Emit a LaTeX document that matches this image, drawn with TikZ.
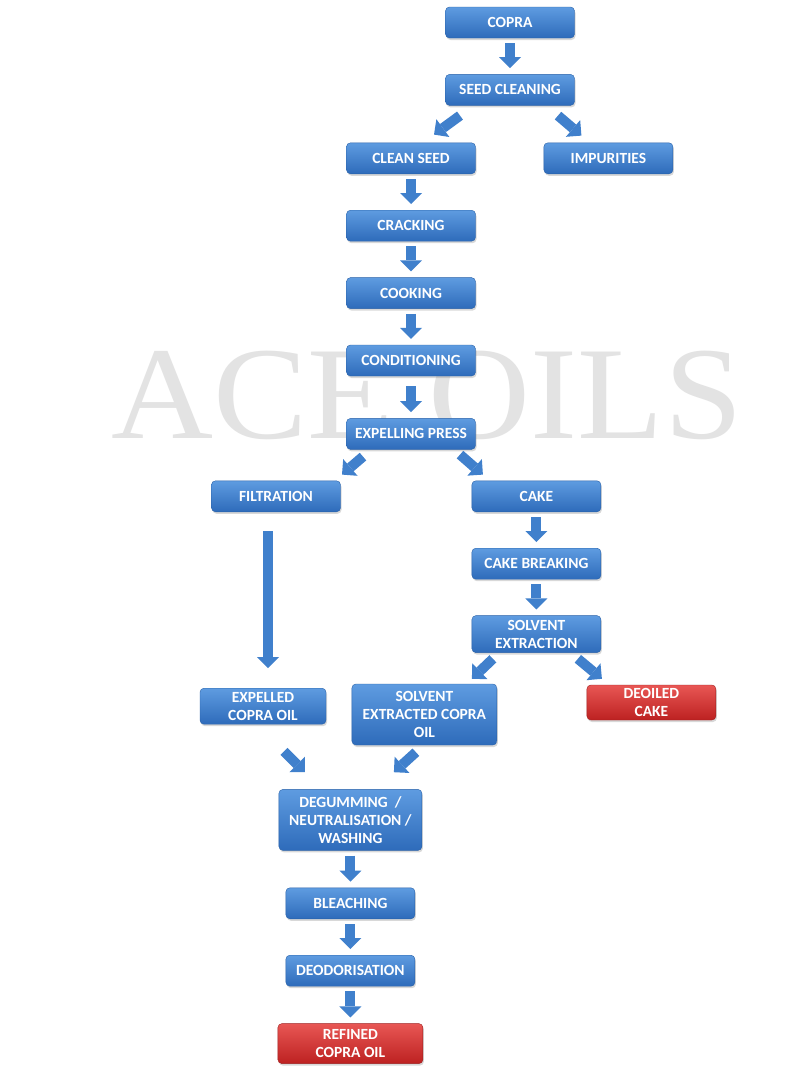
\documentclass[tikz,border=0pt]{standalone}
\usepackage{fontspec}
\setmainfont{Carlito}
\newfontfamily\marcafont{Liberation Serif}
\usetikzlibrary{arrows.meta,positioning,shadows}
\definecolor{azularriba}{rgb}{0.37, 0.61, 0.88}
\definecolor{azulabajo}{rgb}{0.18, 0.42, 0.73}
\definecolor{azulborde}{rgb}{0.16, 0.38, 0.66}
\definecolor{rojoarriba}{rgb}{0.91, 0.34, 0.33}
\definecolor{rojoabajo}{rgb}{0.74, 0.13, 0.13}
\definecolor{rojoborde}{rgb}{0.62, 0.12, 0.12}
\definecolor{flechaazul}{rgb}{0.25, 0.50, 0.80}
\tikzset{
  etapa/.style={
    rounded corners=4pt,
    draw=azulborde,
    top color=azularriba,
    bottom color=azulabajo,
    text=white,
    align=center,
    minimum width=129pt,
    minimum height=31pt,
    inner sep=2pt,
    font=\bfseries\fontsize{15.5}{18}\selectfont,
    drop shadow={opacity=.3,shadow xshift=1pt,shadow yshift=-2pt}
  },
  final/.style={
    etapa,
    draw=rojoborde,
    top color=rojoarriba,
    bottom color=rojoabajo
  },
  flecha/.style={
    -{Triangle[width=22pt,length=11pt,line width=0pt]},
    line width=10pt,
    flechaazul
  },
  recta/.style={
    flecha,
    shorten <=5pt,
    shorten >=6pt
  }
}
\begin{document}
\begin{tikzpicture}[x=1pt,y=-1pt,node distance=36pt]
\useasboundingbox[fill=white] (0,0) rectangle (796,1071);
\node[text=black!11, font=\marcafont\fontsize{132}{132}\selectfont, transform shape, xscale=1.07] (marca) at (427,395) {ACE OILS};
% linea principal
\node[etapa] (copra) at (510,22.5) {COPRA};
\node[etapa, below=of copra] (limpieza) {SEED CLEANING};
\node[etapa, below=37pt of limpieza, xshift=-99pt] (semilla) {CLEAN SEED};
\node[etapa, right=68pt of semilla] (impurezas) {IMPURITIES};
\node[etapa, below=of semilla] (quebrado) {CRACKING};
\node[etapa, below=of quebrado] (coccion) {COOKING};
\node[etapa, below=of coccion] (acond) {CONDITIONING};
\node[etapa, below=42pt of acond] (prensa) {EXPELLING PRESS};
% aceite y torta
\node[etapa, below=31pt of prensa, xshift=-135pt] (filtro) {FILTRATION};
\node[etapa, right=131pt of filtro] (torta) {CAKE};
\node[etapa, below=of torta] (rotura) {CAKE BREAKING};
\node[etapa, below=of rotura, minimum height=37pt] (solvente) {SOLVENT\\EXTRACTION};
\node[final, below=32pt of solvente, xshift=115pt, minimum height=35pt] (desaceitada) {DEOILED\\CAKE};
\node[etapa, below=31pt of solvente, xshift=-112pt, minimum width=145pt, minimum height=61pt] (aceitesolv) {SOLVENT\\EXTRACTED COPRA\\OIL};
\node[etapa, below=176pt of filtro, xshift=-13pt, minimum width=126pt, minimum height=36pt] (aceiteexp) {EXPELLED\\COPRA OIL};
% refinado
\node[etapa, below=44pt of aceitesolv, xshift=-74pt, minimum width=143pt, minimum height=61pt] (degomado) {DEGUMMING\ \ /\\NEUTRALISATION /\\WASHING};
\node[etapa, below=37pt of degomado] (blanqueo) {BLEACHING};
\node[etapa, below=of blanqueo] (desodor) {DEODORISATION};
\node[final, below=37pt of desodor, minimum width=145pt, minimum height=40pt] (refinado) {REFINED\\COPRA OIL};
\draw[recta] (copra) -- (limpieza);
\draw[flecha] ([shift={(-50,10)}]limpieza.south) -- ([shift={(23,-8)}]semilla.north);
\draw[flecha] ([shift={(48,10)}]limpieza.south) -- ([shift={(-27,-7)}]impurezas.north);
\draw[recta] (semilla) -- (quebrado);
\draw[recta] (quebrado) -- (coccion);
\draw[recta] (coccion) -- (acond);
\draw[recta, shorten <=10pt] (acond) -- (prensa);
\draw[flecha] ([shift={(-48,7)}]prensa.south) -- ([shift={(66,-6)}]filtro.north);
\draw[flecha] ([shift={(49,5)}]prensa.south) -- ([shift={(-53.5,-6)}]torta.north);
\draw[flecha, shorten <=19pt, shorten >=20pt] ([xshift=-8pt]filtro.south) -- ([xshift=5pt]aceiteexp.north);
\draw[recta] (torta) -- (rotura);
\draw[recta] (rotura) -- (solvente);
\draw[flecha] ([shift={(-43.5,6)}]solvente.south) -- ([shift={(47.5,-5)}]aceitesolv.north);
\draw[flecha] ([shift={(41.5,6)}]solvente.south) -- ([shift={(-49.5,-6)}]desaceitada.north);
\draw[flecha] ([shift={(21,27)}]aceiteexp.south) -- ([shift={(-45.5,-17)}]degomado.north);
\draw[flecha] ([shift={(-8.5,7)}]aceitesolv.south) -- ([shift={(43.5,-17)}]degomado.north);
\draw[recta] (degomado) -- (blanqueo);
\draw[recta] (blanqueo) -- (desodor);
\draw[recta] (desodor) -- (refinado);
\end{tikzpicture}
\end{document}
